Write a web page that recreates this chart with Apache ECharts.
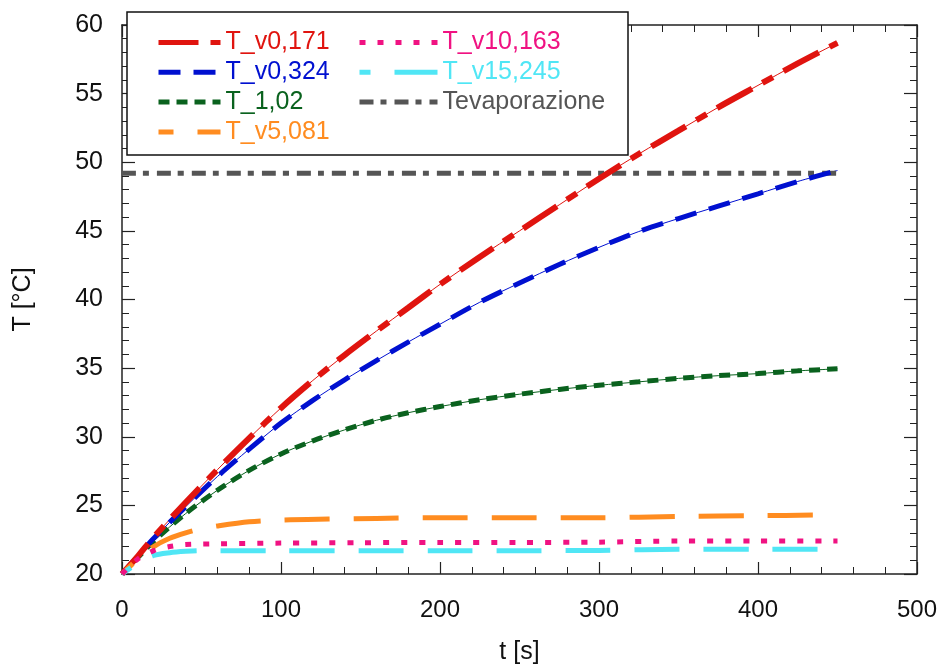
<!DOCTYPE html>
<html>
<head>
<meta charset="utf-8">
<script src="https://cdn.jsdelivr.net/npm/echarts@6/dist/echarts.min.js"></script>
<style>
html,body{margin:0;padding:0;background:#fff;}
#c{width:940px;height:667px;}
</style>
</head>
<body>
<div id="c"></div>
<script>
// ---- data ----
var tMain = [0,10,20,40,60,80,100,120,140,160,180,200,225,250,275,300,325,350,375,400,425,450];
var T_v0_171 = [20,21.3,22.7,25.2,27.6,29.9,32.1,34.1,35.95,37.7,39.4,41.1,43.1,45.0,46.9,48.8,50.6,52.3,54.0,55.6,57.2,58.7];
var T_v0_324 = [20,21.3,22.6,24.9,27.1,29.1,31.0,32.65,34.15,35.55,36.9,38.2,39.8,41.2,42.55,43.8,44.95,45.9,46.8,47.7,48.6,49.4];
var T_1_02   = [20,21.2,22.4,24.4,26.1,27.55,28.75,29.7,30.5,31.2,31.75,32.2,32.7,33.1,33.45,33.75,34.0,34.25,34.45,34.6,34.8,34.95];

var tOrange = [0,10,20,30,40,50,60,80,100,130,160,200,250,300,350,400,440];
var T_v5_081 = [20,21.1,22.0,22.6,23.0,23.3,23.5,23.8,23.93,24.0,24.05,24.1,24.1,24.1,24.2,24.25,24.3];

var tPink = [0,10,20,30,40,60,100,150,200,250,300,350,400,450];
var T_v10_163 = [20,21.1,21.7,22.0,22.15,22.2,22.25,22.28,22.3,22.3,22.32,22.4,22.4,22.4];

var tCyan = [0,10,20,30,40,50,100,150,200,250,300,350,400,440];
var T_v15_245 = [20,20.8,21.35,21.55,21.65,21.7,21.7,21.7,21.7,21.7,21.72,21.8,21.8,21.8];

var tEvap = [0,450];
var Tevaporazione = [49.2,49.2];

var xTicks = {min:0, max:500, interval:100};
var yTicks = {min:20, max:60, interval:5};

function pairs(t, v){ return t.map(function(x,i){ return [x, v[i]]; }); }

var FONT = "'Liberation Sans', Arial, sans-serif";
var C = {
  red:'#e0140f', blue:'#0010d0', green:'#0a621e', orange:'#ff8c20',
  pink:'#f01282', cyan:'#50e6f5', gray:'#555555'
};

function thin(name, data, color){
  return {type:'line', name:name, data:data, showSymbol:false, symbol:'none', smooth:0.3,
    lineStyle:{color:color, width:1}, itemStyle:{color:color}, z:2, silent:true};
}
function thick(name, data, color, width, dash, offset){
  return {type:'line', name:name, data:data, showSymbol:false, symbol:'none', smooth:0.3,
    lineStyle:{color:color, width:width, type:dash, dashOffset:offset||0, cap:'butt'},
    itemStyle:{color:color}, z:3};
}

function axisCommon(){
  return {
    type:'value', min:xTicks.min, max:xTicks.max, interval:xTicks.interval,
    axisLine:{show:true, onZero:false, lineStyle:{color:'#222', width:1.5}},
    axisTick:{show:true, inside:true, length:12, lineStyle:{color:'#222', width:1.2}},
    minorTick:{show:true, splitNumber:5, length:7, lineStyle:{color:'#222', width:1}},
    splitLine:{show:false}, minorSplitLine:{show:false}
  };
}
var xBottom = axisCommon();
xBottom.position = 'bottom';
xBottom.axisLabel = {fontSize:24, color:'#111', fontFamily:FONT, margin:24};
xBottom.name = 't [s]'; xBottom.nameLocation = 'middle'; xBottom.nameGap = 66;
xBottom.nameTextStyle = {fontSize:25, color:'#111', fontFamily:FONT};
var xTop = axisCommon();
xTop.position = 'top'; xTop.axisLabel = {show:false};

function yCommon(){
  return {
    type:'value', min:yTicks.min, max:yTicks.max, interval:yTicks.interval,
    axisLine:{show:true, onZero:false, lineStyle:{color:'#222', width:1.5}},
    axisTick:{show:true, inside:true, length:13, lineStyle:{color:'#222', width:1.2}},
    minorTick:{show:true, splitNumber:5, length:7, lineStyle:{color:'#222', width:1}},
    splitLine:{show:false}, minorSplitLine:{show:false}
  };
}
var yLeft = yCommon();
yLeft.position = 'left';
yLeft.axisLabel = {fontSize:25, color:'#111', fontFamily:FONT, margin:19};
yLeft.name = 'T [°C]'; yLeft.nameLocation = 'middle'; yLeft.nameGap = 86;
yLeft.nameTextStyle = {fontSize:25, color:'#111', fontFamily:FONT};
var yRight = yCommon();
yRight.position = 'right'; yRight.axisLabel = {show:false};

var series = [
  thin('l1', pairs(tMain, T_v0_171), C.red),
  thin('l2', pairs(tMain, T_v0_324), C.blue),
  thin('l3', pairs(tMain, T_1_02), C.green),
  thick('Tevaporazione', pairs(tEvap, Tevaporazione), C.gray, 5, [14,7,6,8]),
  thick('T_1,02', pairs(tMain, T_1_02), C.green, 5, [11,7]),
  thick('T_v0,324', pairs(tMain, T_v0_324), C.blue, 5, [22,13]),
  thick('T_v0,171', pairs(tMain, T_v0_171), C.red, 6, [40,12,12,12]),
  thick('T_v5,081', pairs(tOrange, T_v5_081), C.orange, 5, [45,24], 30),
  thick('T_v15,245', pairs(tCyan, T_v15_245), C.cyan, 5, [45,24], 34),
  thick('T_v10,163', pairs(tPink, T_v10_163), C.pink, 5, [6,12])
];

function legItem(name, color){ return {name:name, textStyle:{color:color}}; }
var legCommon = {
  orient:'vertical', top:30, itemHeight:6, itemGap:4.8, padding:0,
  textStyle:{fontSize:25, fontFamily:FONT}, selectedMode:false, z:5,
  itemStyle:{opacity:0}, lineStyle:{width:5}
};
var leg1 = Object.assign({}, legCommon, {left:156, itemWidth:62,
  data:[legItem('T_v0,171',C.red), legItem('T_v0,324',C.blue), legItem('T_1,02',C.green), legItem('T_v5,081',C.orange)]});
var leg2 = Object.assign({}, legCommon, {left:357, itemWidth:78,
  data:[legItem('T_v10,163',C.pink), legItem('T_v15,245',C.cyan), legItem('Tevaporazione',C.gray)]});

var option = {
  animation:false,
  backgroundColor:'#fff',
  textStyle:{fontFamily:FONT},
  grid:{left:122, top:25, width:795, height:549, containLabel:false, outerBoundsMode:'none'},
  xAxis:[xBottom, xTop],
  yAxis:[yLeft, yRight],
  graphic:[{type:'rect', z:3, shape:{x:127, y:12, width:501, height:143},
    style:{fill:'#fff', stroke:'#111', lineWidth:1.5}}],
  legend:[leg1, leg2],
  series:series
};
var chart = echarts.init(document.getElementById('c'), null, {renderer:'canvas'});
chart.setOption(option);
</script>
</body>
</html>
